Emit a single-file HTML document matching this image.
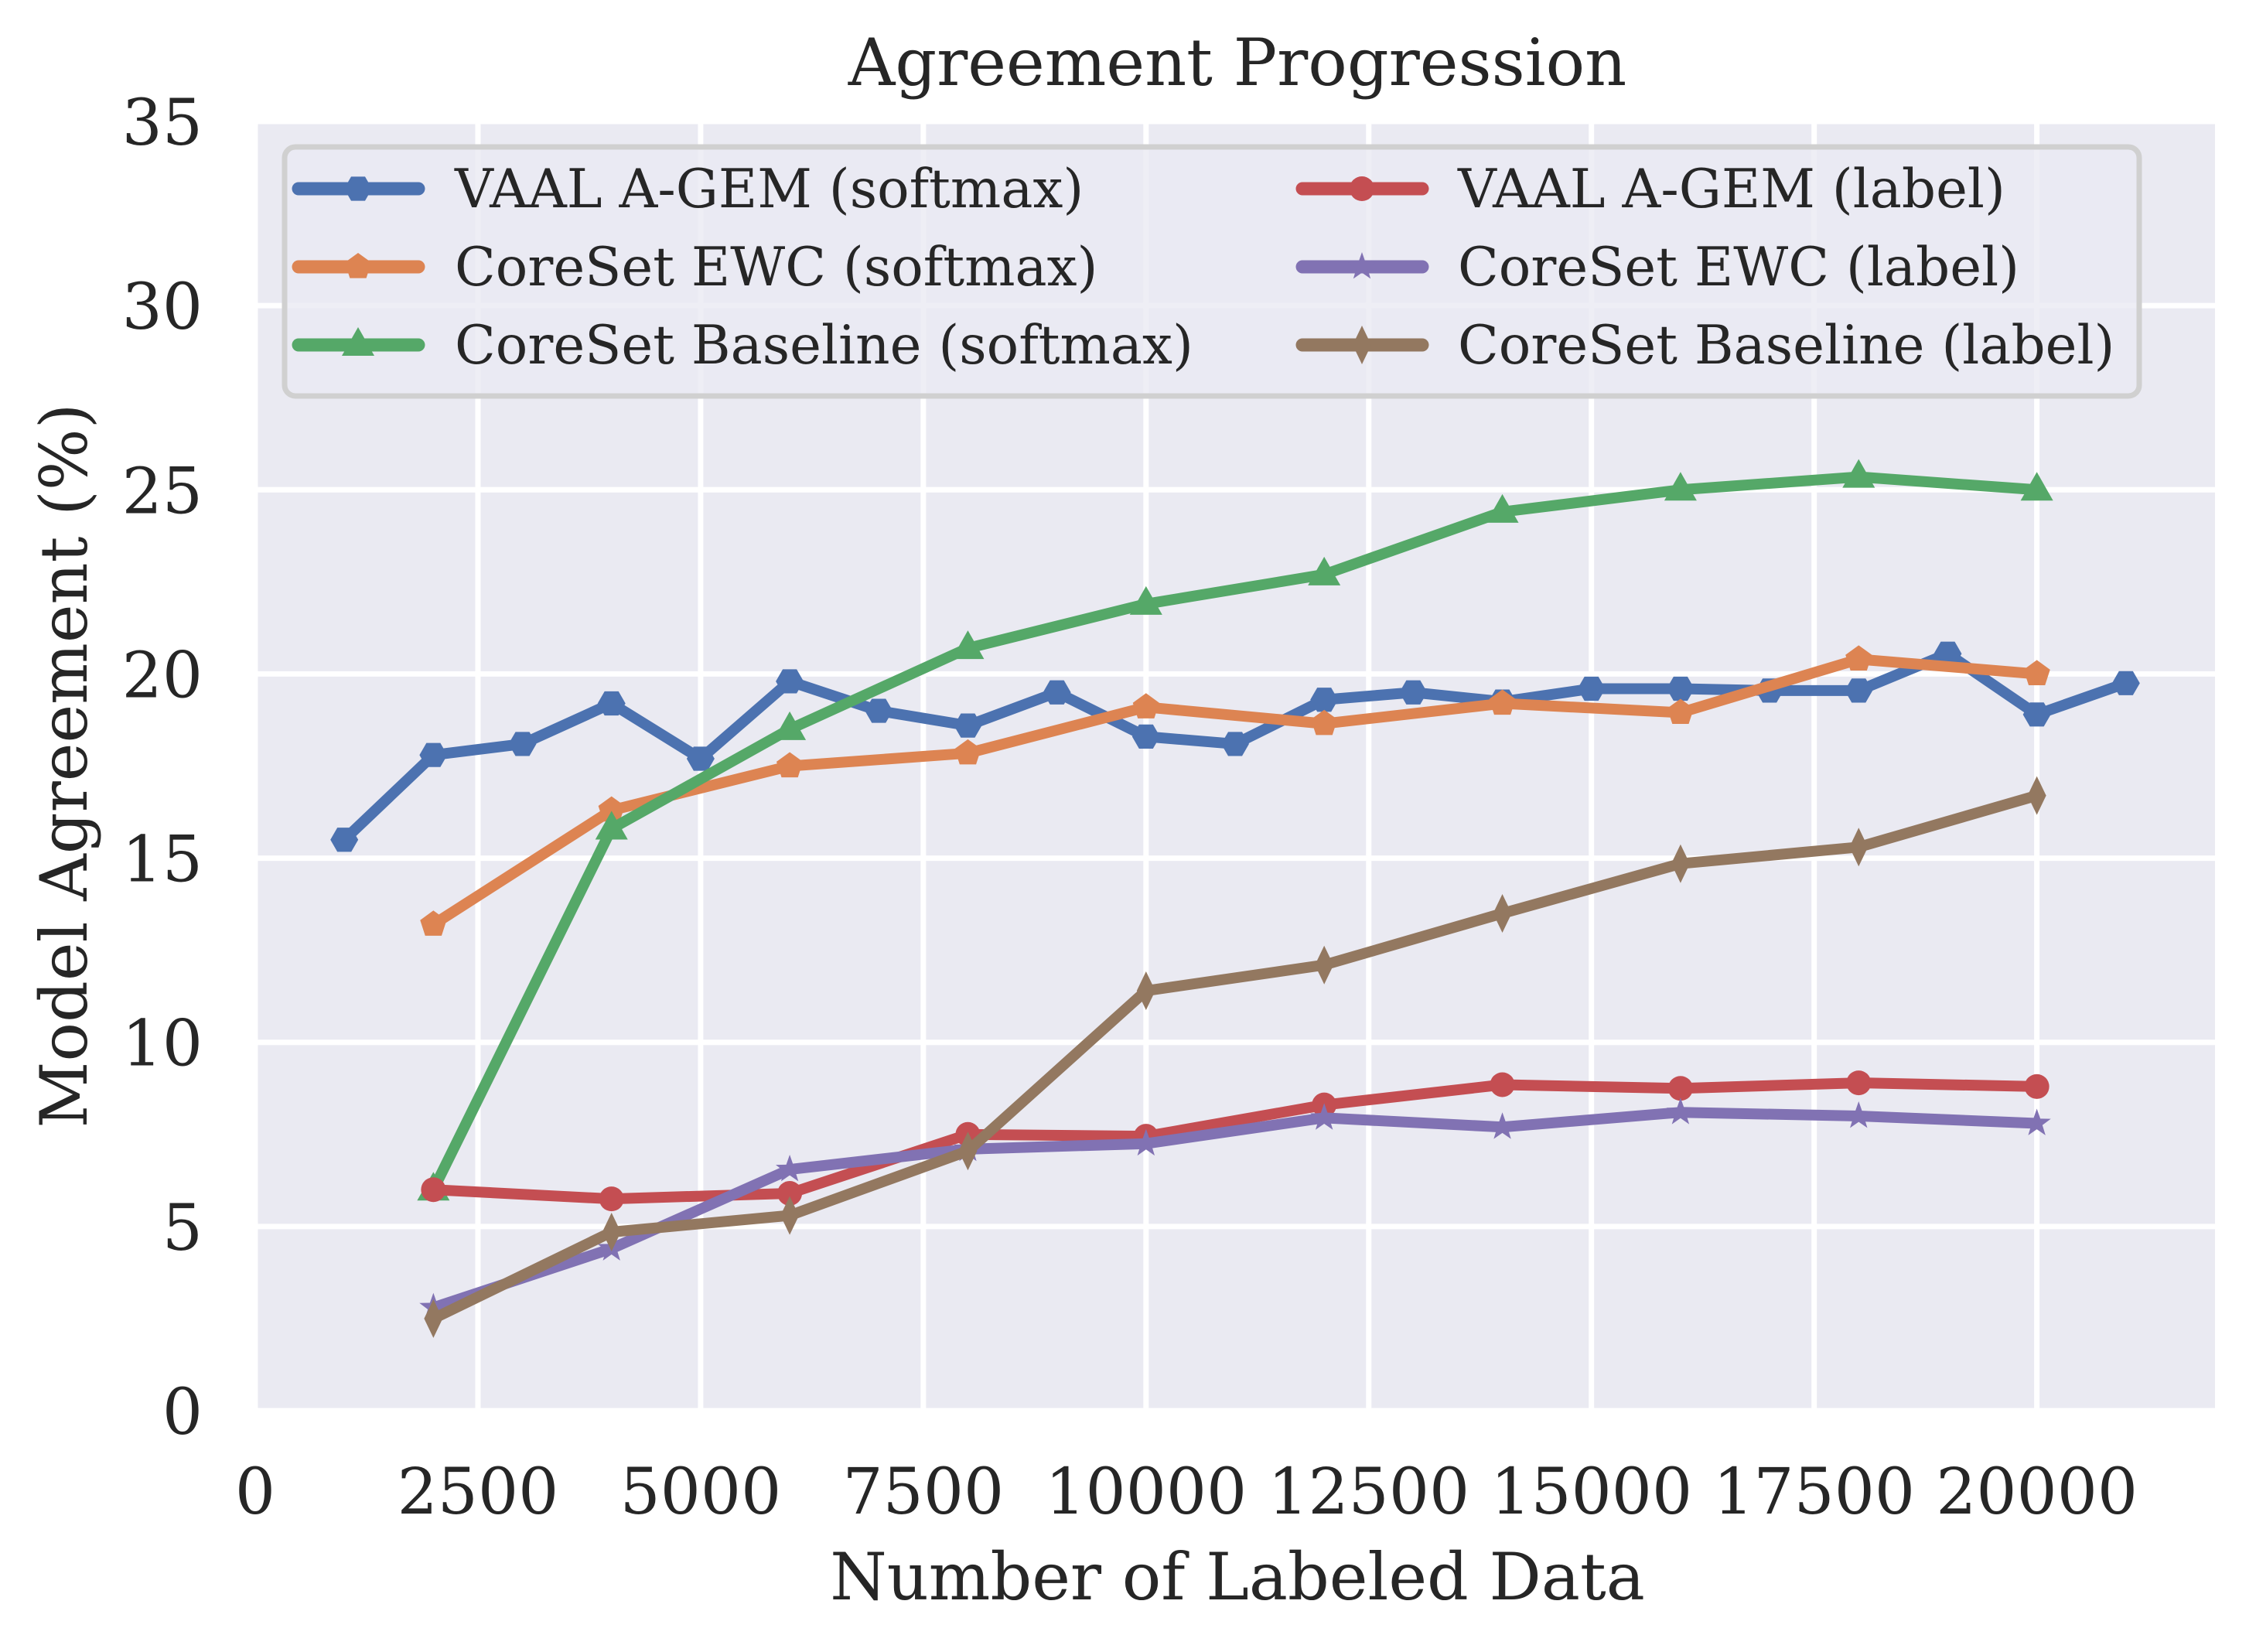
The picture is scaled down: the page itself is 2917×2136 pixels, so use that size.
<!DOCTYPE html>
<html><head><meta charset="utf-8"><style>
html,body{margin:0;padding:0;background:#fff}
svg text{font-family:"DejaVu Serif","Liberation Serif",serif;fill:#262626}
</style></head><body>
<svg id="chart" width="2917" height="2131" viewBox="0 0 2917 2131" xmlns="http://www.w3.org/2000/svg">
<rect x="330" y="157" width="2534" height="1667" fill="#EAEAF2"/>
<g id="grid"></g>
<g id="ticks"></g>
<g id="series"></g>
<g id="legend"></g>
<text x="1600" y="110" font-size="84" text-anchor="middle">Agreement Progression</text>
<text x="1600" y="2068" font-size="84" text-anchor="middle">Number of Labeled Data</text>
<text transform="translate(112,990) rotate(-90)" font-size="84" text-anchor="middle">Model Agreement (%)</text>
</svg>
<script>
const xTicks=[0,2500,5000,7500,10000,12500,15000,17500,20000];
const yTicks=[0,5,10,15,20,25,30,35];
const xBlue=[1000,2000,3000,4000,5000,6000,7000,8000,9000,10000,11000,12000,13000,14000,15000,16000,17000,18000,19000,20000,21000];
const vaalAgemSoftmax=[15.5,17.8,18.1,19.2,17.7,19.8,19.0,18.6,19.5,18.3,18.1,19.3,19.5,19.25,19.6,19.6,19.55,19.55,20.55,18.9,19.75];
const xOther=[2000,4000,6000,8000,10000,12000,14000,16000,18000,20000];
const coresetEwcSoftmax=[13.2,16.3,17.5,17.85,19.1,18.65,19.2,18.95,20.4,20.0];
const coresetBaseSoftmax=[6.0,15.8,18.5,20.7,21.9,22.7,24.4,25.0,25.35,25.0];
const vaalAgemLabel=[6.0,5.75,5.9,7.5,7.45,8.3,8.85,8.75,8.9,8.8];
const coresetEwcLabel=[2.8,4.4,6.55,7.1,7.25,7.95,7.7,8.1,8.0,7.8];
const coresetBaseLabel=[2.5,4.85,5.3,7.05,11.4,12.1,13.5,14.85,15.3,16.7];
const seriesNames=["VAAL A-GEM (softmax)","CoreSet EWC (softmax)","CoreSet Baseline (softmax)","VAAL A-GEM (label)","CoreSet EWC (label)","CoreSet Baseline (label)"];

const NS="http://www.w3.org/2000/svg";
const X0=330,X1=2864,Y0=1824,Y1=157,XMIN=0,XMAX=22000,YMIN=0,YMAX=35;
const sx=v=>X0+(v-XMIN)/(XMAX-XMIN)*(X1-X0);
const sy=v=>Y0-(v-YMIN)/(YMAX-YMIN)*(Y0-Y1);
function mk(tag,attrs,parent){const e=document.createElementNS(NS,tag);for(const k in attrs)e.setAttribute(k,attrs[k]);parent.appendChild(e);return e;}
const grid=document.getElementById('grid'),ticks=document.getElementById('ticks'),ser=document.getElementById('series'),leg=document.getElementById('legend');
xTicks.forEach(t=>{
  const l=mk('line',{x1:sx(t),x2:sx(t),y1:Y1,y2:Y0,stroke:'#fff','stroke-width':7},grid);
  
  
  const tx=mk('text',{x:sx(t),y:1957,'font-size':82,'text-anchor':'middle'},ticks);tx.textContent=t;
  
  
});
yTicks.forEach(t=>{
  const l=mk('line',{x1:X0,x2:X1,y1:sy(t),y2:sy(t),stroke:'#fff','stroke-width':7},grid);
  
  
  const tx=mk('text',{x:262,y:sy(t)+30,'font-size':82,'text-anchor':'end'},ticks);tx.textContent=t;
  
  
});
function poly(n,r,rot){let p=[];for(let i=0;i<n;i++){const a=rot+i*2*Math.PI/n;p.push((r*Math.cos(a)).toFixed(1)+','+(r*Math.sin(a)).toFixed(1));}return p.join(' ');}
function star(r){let p=[];for(let i=0;i<10;i++){const a=-Math.PI/2+i*Math.PI/5;const rr=i%2?r*0.4:r;p.push((rr*Math.cos(a)).toFixed(1)+','+(rr*Math.sin(a)).toFixed(1));}return p.join(' ');}
function marker(type,x,y,color,parent){
  let e;
  if(type==='circle')e=mk('circle',{cx:x,cy:y,r:16,fill:color},parent);
  else if(type==='hex')e=mk('polygon',{points:poly(6,18,0),transform:`translate(${x},${y})`,fill:color},parent);
  else if(type==='pent')e=mk('polygon',{points:poly(5,18,-Math.PI/2),transform:`translate(${x},${y})`,fill:color},parent);
  else if(type==='tri')e=mk('polygon',{points:'0,-23 21,14 -21,14',transform:`translate(${x},${y})`,fill:color},parent);
  else if(type==='star')e=mk('polygon',{points:star(19),transform:`translate(${x},${y})`,fill:color},parent);
  else e=mk('polygon',{points:'0,-25 12,0 0,25 -12,0',transform:`translate(${x},${y})`,fill:color},parent);
  return e;
}
const defs=[
  {xs:xBlue,ys:vaalAgemSoftmax,c:'#4C72B0',m:'hex'},
  {xs:xOther,ys:coresetEwcSoftmax,c:'#DD8452',m:'pent'},
  {xs:xOther,ys:coresetBaseSoftmax,c:'#55A868',m:'tri'},
  {xs:xOther,ys:vaalAgemLabel,c:'#C44E52',m:'circle'},
  {xs:xOther,ys:coresetEwcLabel,c:'#8172B3',m:'star'},
  {xs:xOther,ys:coresetBaseLabel,c:'#937860',m:'diamond'}
];
defs.forEach((d,i)=>{
  const g=mk('g',{},ser);
  
  
  const pl=mk('polyline',{points:d.xs.map((x,j)=>sx(x)+','+sy(d.ys[j])).join(' '),fill:'none',stroke:d.c,'stroke-width':14,'stroke-linejoin':'round','stroke-linecap':'round'},g);
  
  
  d.xs.forEach((x,j)=>{const m=marker(d.m,sx(x),sy(d.ys[j]),d.c,g);
    
    });
});
const lb=mk('rect',{x:368,y:190,width:2398,height:322,rx:14,fill:'#EAEAF2','fill-opacity':0.8,stroke:'#D0D0D0','stroke-width':7},leg);


defs.forEach((d,i)=>{
  const col=i<3?0:1,row=i%3;
  const hx=col?1684:386,tx=col?1885:588,y=244+row*101;
  const g=mk('g',{},leg);
  
  
  mk('line',{x1:hx,x2:hx+155,y1:y,y2:y,stroke:d.c,'stroke-width':17,'stroke-linecap':'round'},g);
  marker(d.m,hx+77,y,d.c,g);
  const t=mk('text',{x:tx,y:y+24,'font-size':69},g);t.textContent=seriesNames[i];
});
</script>
</body></html>
